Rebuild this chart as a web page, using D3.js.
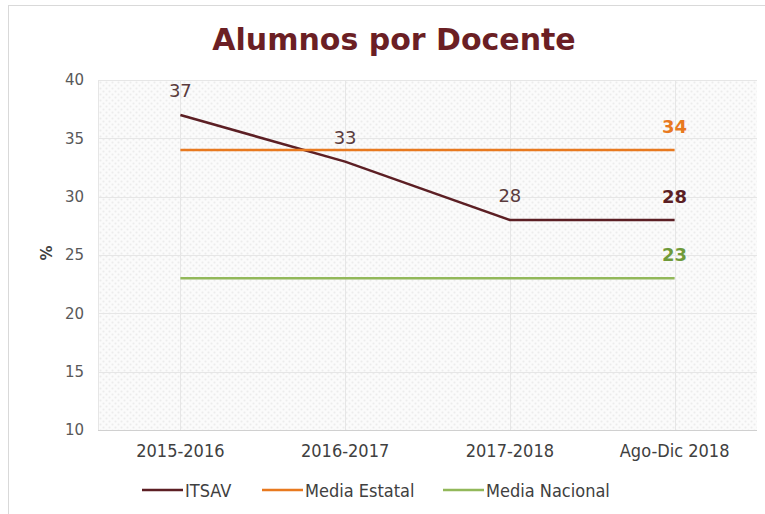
<!DOCTYPE html>
<html>
<head>
<meta charset="utf-8">
<script src="https://cdnjs.cloudflare.com/ajax/libs/d3/7.8.5/d3.min.js"></script>
<style>
  body { margin: 0; background: #fff; }
  svg { display: block; }
</style>
</head>
<body>
<div id="chart"></div>
<script>
// data
var categories = ["2015-2016", "2016-2017", "2017-2018", "Ago-Dic 2018"];
var itsav = [37, 33, 28, 28];
var mediaEstatal = [34, 34, 34, 34];
var mediaNacional = [23, 23, 23, 23];
var yTicks = [10, 15, 20, 25, 30, 35, 40];
var seriesNames = ["ITSAV", "Media Estatal", "Media Nacional"];

var width = 765, height = 514;
var margin = { left: 98, right: 8, top: 80, bottom: 84 };

var svg = d3.select("#chart").append("svg")
  .attr("width", width)
  .attr("height", height);

// dotted background pattern
var defs = svg.append("defs");
var pat = defs.append("pattern")
  .attr("id", "dots")
  .attr("width", 6).attr("height", 6)
  .attr("patternUnits", "userSpaceOnUse");
pat.append("rect").attr("width", 6).attr("height", 6).attr("fill", "#fbfbfb");
pat.append("circle").attr("cx", 1.5).attr("cy", 1.5).attr("r", 1).attr("fill", "#ececec");
pat.append("circle").attr("cx", 4.5).attr("cy", 4.5).attr("r", 1).attr("fill", "#ececec");

// outer border
svg.append("rect")
  .attr("x", 8.5).attr("y", 5.5)
  .attr("width", width).attr("height", height)
  .attr("fill", "none")
  .attr("stroke", "#d9d9d9");

var x = d3.scaleBand()
  .domain(categories)
  .range([margin.left, width - margin.right])
  .padding(0);

var y = d3.scaleLinear()
  .domain([10, 40])
  .range([height - margin.bottom, margin.top]);

function cx(d) { return x(d) + x.bandwidth() / 2; }

// plot background
svg.append("rect")
  .attr("x", margin.left)
  .attr("y", margin.top)
  .attr("width", width - margin.left - margin.right)
  .attr("height", y(10) - y(40))
  .attr("fill", "url(#dots)");

// grid lines
svg.append("g").selectAll("line")
  .data(yTicks)
  .enter().append("line")
  .attr("x1", margin.left).attr("x2", width - margin.right)
  .attr("y1", function(d) { return Math.round(y(d)) + 0.5; })
  .attr("y2", function(d) { return Math.round(y(d)) + 0.5; })
  .attr("stroke", function(d) { return d == 10 ? "#d0d0d0" : "#e6e6e6"; });

svg.append("g").selectAll("line")
  .data(categories)
  .enter().append("line")
  .attr("x1", function(d) { return Math.round(cx(d)) + 0.5; })
  .attr("x2", function(d) { return Math.round(cx(d)) + 0.5; })
  .attr("y1", y(40)).attr("y2", y(10))
  .attr("stroke", "#e6e6e6");

svg.append("line")
  .attr("x1", margin.left + 0.5).attr("x2", margin.left + 0.5)
  .attr("y1", y(40)).attr("y2", y(10))
  .attr("stroke", "#e6e6e6");

// axes
var yAxis = d3.axisLeft(y).tickValues(yTicks).tickSize(0).tickPadding(14);
var gy = svg.append("g")
  .attr("transform", "translate(" + margin.left + ",0)")
  .call(yAxis);
gy.select(".domain").remove();
gy.selectAll("text")
  .attr("font-family", "DejaVu Sans")
  .attr("font-size", "15px")
  .attr("fill", "#595959");

var xAxis = d3.axisBottom(x).tickSize(0).tickPadding(14);
var gx = svg.append("g")
  .attr("transform", "translate(0," + y(10) + ")")
  .call(xAxis);
gx.select(".domain").remove();
gx.selectAll("text")
  .attr("font-family", "DejaVu Sans Condensed, DejaVu Sans")
  .attr("font-size", "18px")
  .attr("fill", "#404040");

// y title
svg.append("text")
  .attr("transform", "translate(52,253) rotate(-90)")
  .attr("text-anchor", "middle")
  .attr("font-family", "DejaVu Sans")
  .attr("font-weight", "bold")
  .attr("font-size", "15px")
  .attr("fill", "#404040")
  .text("%");

// title
svg.append("text")
  .attr("x", 394).attr("y", 50)
  .attr("text-anchor", "middle")
  .attr("font-family", "DejaVu Sans")
  .attr("font-weight", "bold")
  .attr("font-size", "30px")
  .attr("fill", "#6b1f24")
  .text("Alumnos por Docente");

// lines
var line = d3.line()
  .x(function(d, i) { return cx(categories[i]); })
  .y(function(d) { return y(d); });

var series = [
  { name: seriesNames[0], values: itsav, color: "#5c1f24", labelColor: "#5c1f24" },
  { name: seriesNames[1], values: mediaEstatal, color: "#e8791f", labelColor: "#e8791f" },
  { name: seriesNames[2], values: mediaNacional, color: "#92b85a", labelColor: "#6f9a3a" }
];

svg.selectAll(".series")
  .data(series)
  .enter().append("path")
  .attr("class", "series")
  .attr("d", function(d) { return line(d.values); })
  .attr("fill", "none")
  .attr("stroke", function(d) { return d.color; })
  .attr("stroke-width", 2.5);

// data labels for ITSAV (first three normal)
svg.selectAll(".lbl")
  .data(itsav.slice(0, 3))
  .enter().append("text")
  .attr("class", "lbl")
  .attr("x", function(d, i) { return cx(categories[i]); })
  .attr("y", function(d, i) { return y(d) - 18; })
  .attr("text-anchor", "middle")
  .attr("font-family", "DejaVu Sans")
  .attr("font-size", "18px")
  .attr("fill", "#5a3b3d")
  .text(function(d) { return d; });

// last labels, bold
var last = categories.length - 1;
svg.selectAll(".lastlbl")
  .data(series)
  .enter().append("text")
  .attr("class", "lastlbl")
  .attr("x", cx(categories[last]))
  .attr("y", function(d) { return y(d.values[last]) - 17; })
  .attr("text-anchor", "middle")
  .attr("font-family", "DejaVu Sans")
  .attr("font-weight", "bold")
  .attr("font-size", "18px")
  .attr("fill", function(d) { return d.labelColor; })
  .text(function(d) { return d.values[last]; });

// legend
var legendX = [142, 262, 443];
var legend = svg.selectAll(".legend")
  .data(series)
  .enter().append("g")
  .attr("class", "legend")
  .attr("transform", function(d, i) { return "translate(" + legendX[i] + ",490)"; });

legend.append("line")
  .attr("x1", 0).attr("x2", 41)
  .attr("stroke", function(d) { return d.color; })
  .attr("stroke-width", 2.5);

legend.append("text")
  .attr("x", 43)
  .attr("y", 6.5)
  .attr("font-family", "DejaVu Sans Condensed, DejaVu Sans")
  .attr("font-size", "18px")
  .attr("fill", "#404040")
  .text(function(d) { return d.name; });
</script>
</body>
</html>
